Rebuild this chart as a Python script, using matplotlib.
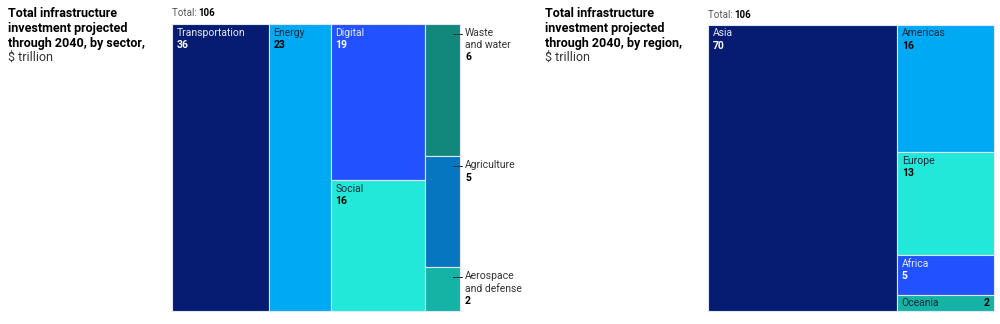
import matplotlib.pyplot as plt
from matplotlib.patches import Rectangle

# Datos
sector_names = ['Transportation', 'Energy', 'Digital', 'Social',
                'Waste\nand water', 'Agriculture', 'Aerospace\nand defense']
sector_values = [36, 23, 19, 16, 6, 5, 2]
sector_columns = [[0], [1], [2, 3], [4, 5, 6]]

region_names = ['Asia', 'Americas', 'Europe', 'Africa', 'Oceania']
region_values = [70, 16, 13, 5, 2]
region_columns = [[0], [1, 2, 3, 4]]

total = 106

# Estilos
navy = '#051C72'
sky = '#00A9F4'
blue = '#2251FF'
cyan = '#22E8D9'
teal = '#12887A'
midblue = '#0776C0'
aqua = '#14B3A6'
sector_colors = [navy, sky, blue, cyan, teal, midblue, aqua]
region_colors = [navy, sky, cyan, blue, aqua]
dark_bg = {navy, blue, teal, midblue}

plt.rcParams['font.family'] = ['Roboto', 'DejaVu Sans']


def layout(values, columns, x0, y0, w, h):
    tot = float(sum(values))
    rects = [None] * len(values)
    x = x0
    for col in columns:
        csum = sum(values[i] for i in col)
        cw = w * csum / tot
        y = y0
        for i in col:
            ch = h * values[i] / csum
            rects[i] = (x, y, cw, ch)
            y += ch
        x += cw
    return rects


def draw_treemap(ax, names, values, colors, columns, x0, y0, w, h, outside=()):
    rects = layout(values, columns, x0, y0, w, h)
    for i, (x, y, rw, rh) in enumerate(rects):
        ax.add_patch(Rectangle((x, y), rw, rh, facecolor=colors[i],
                               edgecolor='#dfe6f5', linewidth=0.8))
        if colors[i] in dark_bg:
            lab_c, num_c = '#e6e9f2', 'white'
        else:
            lab_c, num_c = '#1a2a3a', 'black'
        if i in outside:
            # etiqueta fuera con linea guia
            ax.plot([x + rw - 7, x + rw + 2], [y + 10, y + 10], color='#333333', lw=0.7)
            ax.text(x + rw + 5, y + 4, names[i], fontsize=7.5, color='#333333',
                    va='top', ha='left', linespacing=1.35)
            nl = names[i].count('\n') + 1
            ax.text(x + rw + 5, y + 4 + 12.5 * nl, str(values[i]), fontsize=7.5,
                    fontweight='bold', color='black', va='top', ha='left')
        elif rh < 25:
            ax.text(x + 5, y + rh / 2, names[i], fontsize=7.5, color=lab_c,
                    va='center', ha='left')
            ax.text(x + rw - 5, y + rh / 2, str(values[i]), fontsize=7.5,
                    fontweight='bold', color=num_c, va='center', ha='right')
        else:
            ax.text(x + 5, y + 4, names[i], fontsize=7.5, color=lab_c,
                    va='top', ha='left')
            ax.text(x + 5, y + 16.5, str(values[i]), fontsize=7.5,
                    fontweight='bold', color=num_c, va='top', ha='left')
    t1 = ax.text(x0, y0 - 5, 'Total: ', fontsize=7, color='#555555',
                 va='bottom', ha='left')
    ax.annotate(str(total), xy=(1, 0), xycoords=t1, fontsize=7, fontweight='bold',
                color='black', va='bottom', ha='left')


fig = plt.figure(figsize=(10, 3.24), dpi=100)
ax = fig.add_axes([0, 0, 1, 1])
ax.set_xlim(0, 1000)
ax.set_ylim(324, 0)
ax.axis('off')

# Titulos
for tx, what in [(8, 'sector'), (545, 'region')]:
    ax.text(tx, 7, 'Total infrastructure\ninvestment projected\nthrough 2040, by ' + what + ',',
            fontsize=9, fontweight='bold', color='black', va='top', ha='left',
            linespacing=1.2)
    ax.text(tx, 51, '$ trillion', fontsize=9, color='#333333', va='top', ha='left')

draw_treemap(ax, sector_names, sector_values, sector_colors, sector_columns,
             171.5, 23.5, 288.5, 287.5, outside=(4, 5, 6))
draw_treemap(ax, region_names, region_values, region_colors, region_columns,
             707.5, 24.5, 286.5, 286)

plt.savefig('out.png', dpi=100)
